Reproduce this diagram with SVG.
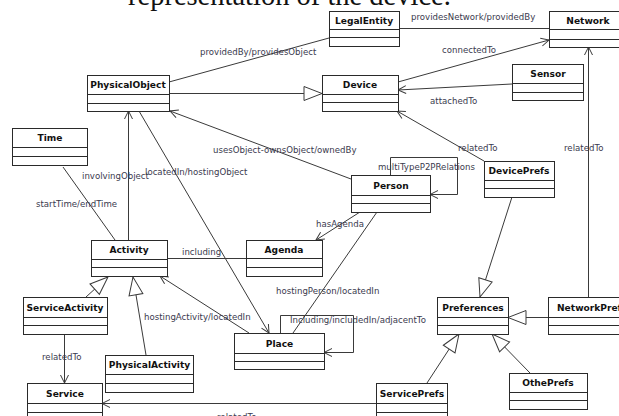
<svg xmlns="http://www.w3.org/2000/svg" width="619" height="416" viewBox="0 0 619 416">
  <style>
    .box { fill: #ffffff; stroke: #2a2a2a; stroke-width: 1; }
    .sep { stroke: #2a2a2a; stroke-width: 1; }
    .name { font-family: "DejaVu Sans", Verdana, sans-serif; font-size: 9.1px; font-weight: bold; fill: #111111; text-anchor: middle; }
    .edge { fill: none; stroke: #3a3a3a; stroke-width: 1; }
    .lbl { font-family: "DejaVu Sans", Verdana, sans-serif; font-size: 8.6px; fill: #3a3a4e; }
    .caption { font-family: "Liberation Serif", "Times New Roman", serif; font-size: 28.5px; fill: #111111; }
  </style>
  <defs>
    <marker id="open" markerUnits="userSpaceOnUse" markerWidth="12" markerHeight="12" viewBox="-10 -6 12 12" refX="0" refY="0" orient="auto" overflow="visible">
      <path d="M-8,-4 L0,0 L-8,4" fill="none" stroke="#3a3a3a" stroke-width="1"/>
    </marker>
    <marker id="gen" markerUnits="userSpaceOnUse" markerWidth="22" markerHeight="18" viewBox="-20 -9 22 18" refX="0" refY="0" orient="auto" overflow="visible">
      <path d="M-18,-7 L0,0 L-18,7 Z" fill="#ffffff" stroke="#3a3a3a" stroke-width="1"/>
    </marker>
  </defs>

  <!-- running text cut by the figure's top edge -->
  <text class="caption" x="128" y="5">representation of the device.</text>

  <!-- connectors -->
  <g id="connectors">
    <path class="edge" d="M169,82 L329,38"/>
    <path class="edge" d="M399,28.5 L549,28.5"/>
    <path class="edge" d="M398,82 L549,40" marker-end="url(#open)"/>
    <path class="edge" d="M512,84 L398,90" marker-end="url(#open)"/>
    <path class="edge" d="M169,93.5 L322,93.5" marker-end="url(#gen)"/>
    <path class="edge" d="M484,161 L397,111" marker-end="url(#open)"/>
    <path class="edge" d="M588.5,297 L588.5,47" marker-end="url(#open)"/>
    <path class="edge" d="M512,197 L480,297" marker-end="url(#gen)"/>
    <path class="edge" d="M548,317.5 L508,317.5" marker-end="url(#gen)"/>
    <path class="edge" d="M427,383 L459,334" marker-end="url(#gen)"/>
    <path class="edge" d="M530,373 L492,334" marker-end="url(#gen)"/>
    <path class="edge" d="M376,403.5 L102,403.5" marker-end="url(#open)"/>
    <path class="edge" d="M64.5,334 L64.5,383" marker-end="url(#open)"/>
    <path class="edge" d="M86,297 L108,277" marker-end="url(#gen)"/>
    <path class="edge" d="M146,355 L133,277" marker-end="url(#gen)"/>
    <path class="edge" d="M128.5,240 L128.5,111" marker-end="url(#open)"/>
    <path class="edge" d="M63,167 L115,240"/>
    <path class="edge" d="M139,111 L269,333" marker-end="url(#open)"/>
    <path class="edge" d="M351,179 L170,111" marker-end="url(#open)"/>
    <path class="edge" d="M167,258.5 L246,258.5"/>
    <path class="edge" d="M360,212 L316,240" marker-end="url(#open)"/>
    <path class="edge" d="M377,212 L293,333"/>
    <path class="edge" d="M249,333 L160,276" marker-end="url(#open)"/>
    <path class="edge" d="M390.5,175 L390.5,157.5 L457.5,157.5 L457.5,194.5 L430,194.5" marker-end="url(#open)"/>
    <path class="edge" d="M280.5,333 L280.5,315.5 L353.5,315.5 L353.5,352.5 L324,352.5" marker-end="url(#open)"/>

    <text class="lbl" x="200" y="55">providedBy/providesObject</text>
    <text class="lbl" x="411" y="20">providesNetwork/providedBy</text>
    <text class="lbl" x="442" y="53">connectedTo</text>
    <text class="lbl" x="430" y="104">attachedTo</text>
    <text class="lbl" x="458" y="151">relatedTo</text>
    <text class="lbl" x="564" y="151">relatedTo</text>
    <text class="lbl" x="213" y="153">usesObject-ownsObject/ownedBy</text>
    <text class="lbl" x="378" y="170">multiTypeP2PRelations</text>
    <text class="lbl" x="82" y="179">involvingObject</text>
    <text class="lbl" x="145" y="175">locatedIn/hostingObject</text>
    <text class="lbl" x="36" y="207">startTime/endTime</text>
    <text class="lbl" x="182" y="255">including</text>
    <text class="lbl" x="316" y="227">hasAgenda</text>
    <text class="lbl" x="276" y="294">hostingPerson/locatedIn</text>
    <text class="lbl" x="144" y="320">hostingActivity/locatedIn</text>
    <text class="lbl" x="290" y="323">Including/includedIn/adjacentTo</text>
    <text class="lbl" x="42" y="360">relatedTo</text>
    <text class="lbl" x="217" y="420">relatedTo</text>
  </g>

  <!-- classes -->
  <g id="LegalEntity" transform="translate(329,11)">
    <rect class="box" x="0.5" y="0.5" width="70" height="35"/>
    <line class="sep" x1="0.5" y1="18.5" x2="70.5" y2="18.5"/>
    <line class="sep" x1="0.5" y1="26.5" x2="70.5" y2="26.5"/>
    <text class="name" x="35" y="13">LegalEntity</text>
  </g>
  <g id="Network" transform="translate(549,11)">
    <rect class="box" x="0.5" y="0.5" width="78" height="36"/>
    <line class="sep" x1="0.5" y1="18.5" x2="78.5" y2="18.5"/>
    <line class="sep" x1="0.5" y1="28.5" x2="78.5" y2="28.5"/>
    <text class="name" x="39" y="13">Network</text>
  </g>
  <g id="PhysicalObject" transform="translate(87,75)">
    <rect class="box" x="0.5" y="0.5" width="82" height="36"/>
    <line class="sep" x1="0.5" y1="19.5" x2="82.5" y2="19.5"/>
    <line class="sep" x1="0.5" y1="28.5" x2="82.5" y2="28.5"/>
    <text class="name" x="41" y="13">PhysicalObject</text>
  </g>
  <g id="Device" transform="translate(322,75)">
    <rect class="box" x="0.5" y="0.5" width="76" height="36"/>
    <line class="sep" x1="0.5" y1="19.5" x2="76.5" y2="19.5"/>
    <line class="sep" x1="0.5" y1="27.5" x2="76.5" y2="27.5"/>
    <text class="name" x="38" y="13">Device</text>
  </g>
  <g id="Sensor" transform="translate(512,64)">
    <rect class="box" x="0.5" y="0.5" width="71" height="36"/>
    <line class="sep" x1="0.5" y1="19.5" x2="71.5" y2="19.5"/>
    <line class="sep" x1="0.5" y1="28.5" x2="71.5" y2="28.5"/>
    <text class="name" x="36" y="13">Sensor</text>
  </g>
  <g id="Time" transform="translate(12,128)">
    <rect class="box" x="0.5" y="0.5" width="75" height="37"/>
    <line class="sep" x1="0.5" y1="19.5" x2="75.5" y2="19.5"/>
    <line class="sep" x1="0.5" y1="28.5" x2="75.5" y2="28.5"/>
    <text class="name" x="38" y="13">Time</text>
  </g>
  <g id="Person" transform="translate(351,175)">
    <rect class="box" x="0.5" y="0.5" width="79" height="37"/>
    <line class="sep" x1="0.5" y1="20.5" x2="79.5" y2="20.5"/>
    <line class="sep" x1="0.5" y1="28.5" x2="79.5" y2="28.5"/>
    <text class="name" x="40" y="13.5">Person</text>
  </g>
  <g id="DevicePrefs" transform="translate(484,161)">
    <rect class="box" x="0.5" y="0.5" width="70" height="36"/>
    <line class="sep" x1="0.5" y1="19.5" x2="70.5" y2="19.5"/>
    <line class="sep" x1="0.5" y1="27.5" x2="70.5" y2="27.5"/>
    <text class="name" x="35" y="13">DevicePrefs</text>
  </g>
  <g id="Activity" transform="translate(91,240)">
    <rect class="box" x="0.5" y="0.5" width="76" height="36"/>
    <line class="sep" x1="0.5" y1="19.5" x2="76.5" y2="19.5"/>
    <line class="sep" x1="0.5" y1="27.5" x2="76.5" y2="27.5"/>
    <text class="name" x="38" y="13">Activity</text>
  </g>
  <g id="Agenda" transform="translate(246,240)">
    <rect class="box" x="0.5" y="0.5" width="76" height="36"/>
    <line class="sep" x1="0.5" y1="18.5" x2="76.5" y2="18.5"/>
    <line class="sep" x1="0.5" y1="27.5" x2="76.5" y2="27.5"/>
    <text class="name" x="38" y="13">Agenda</text>
  </g>
  <g id="Preferences" transform="translate(437,297)">
    <rect class="box" x="0.5" y="0.5" width="71" height="37"/>
    <line class="sep" x1="0.5" y1="20.5" x2="71.5" y2="20.5"/>
    <line class="sep" x1="0.5" y1="28.5" x2="71.5" y2="28.5"/>
    <text class="name" x="36" y="13.5">Preferences</text>
  </g>
  <g id="NetworkPrefs" transform="translate(548,297)">
    <rect class="box" x="0.5" y="0.5" width="91" height="37"/>
    <line class="sep" x1="0.5" y1="20.5" x2="91.5" y2="20.5"/>
    <line class="sep" x1="0.5" y1="28.5" x2="91.5" y2="28.5"/>
    <text class="name" x="44" y="13.5">NetworkPrefs</text>
  </g>
  <g id="ServiceActivity" transform="translate(23,297)">
    <rect class="box" x="0.5" y="0.5" width="84" height="37"/>
    <line class="sep" x1="0.5" y1="20.5" x2="84.5" y2="20.5"/>
    <line class="sep" x1="0.5" y1="28.5" x2="84.5" y2="28.5"/>
    <text class="name" x="42" y="13.5">ServiceActivity</text>
  </g>
  <g id="Place" transform="translate(234,333)">
    <rect class="box" x="0.5" y="0.5" width="90" height="36"/>
    <line class="sep" x1="0.5" y1="20.5" x2="90.5" y2="20.5"/>
    <line class="sep" x1="0.5" y1="28.5" x2="90.5" y2="28.5"/>
    <text class="name" x="45.5" y="13.5">Place</text>
  </g>
  <g id="PhysicalActivity" transform="translate(105,355)">
    <rect class="box" x="0.5" y="0.5" width="88" height="37"/>
    <line class="sep" x1="0.5" y1="19.5" x2="88.5" y2="19.5"/>
    <line class="sep" x1="0.5" y1="28.5" x2="88.5" y2="28.5"/>
    <text class="name" x="44.5" y="13">PhysicalActivity</text>
  </g>
  <g id="OthePrefs" transform="translate(509,373)">
    <rect class="box" x="0.5" y="0.5" width="78" height="36"/>
    <line class="sep" x1="0.5" y1="19.5" x2="78.5" y2="19.5"/>
    <line class="sep" x1="0.5" y1="27.5" x2="78.5" y2="27.5"/>
    <text class="name" x="39" y="13">OthePrefs</text>
  </g>
  <g id="Service" transform="translate(27,383)">
    <rect class="box" x="0.5" y="0.5" width="75" height="40"/>
    <line class="sep" x1="0.5" y1="20.5" x2="75.5" y2="20.5"/>
    <line class="sep" x1="0.5" y1="29.5" x2="75.5" y2="29.5"/>
    <text class="name" x="38" y="13.5">Service</text>
  </g>
  <g id="ServicePrefs" transform="translate(376,383)">
    <rect class="box" x="0.5" y="0.5" width="71" height="40"/>
    <line class="sep" x1="0.5" y1="20.5" x2="71.5" y2="20.5"/>
    <line class="sep" x1="0.5" y1="29.5" x2="71.5" y2="29.5"/>
    <text class="name" x="36" y="13.5">ServicePrefs</text>
  </g>
</svg>
